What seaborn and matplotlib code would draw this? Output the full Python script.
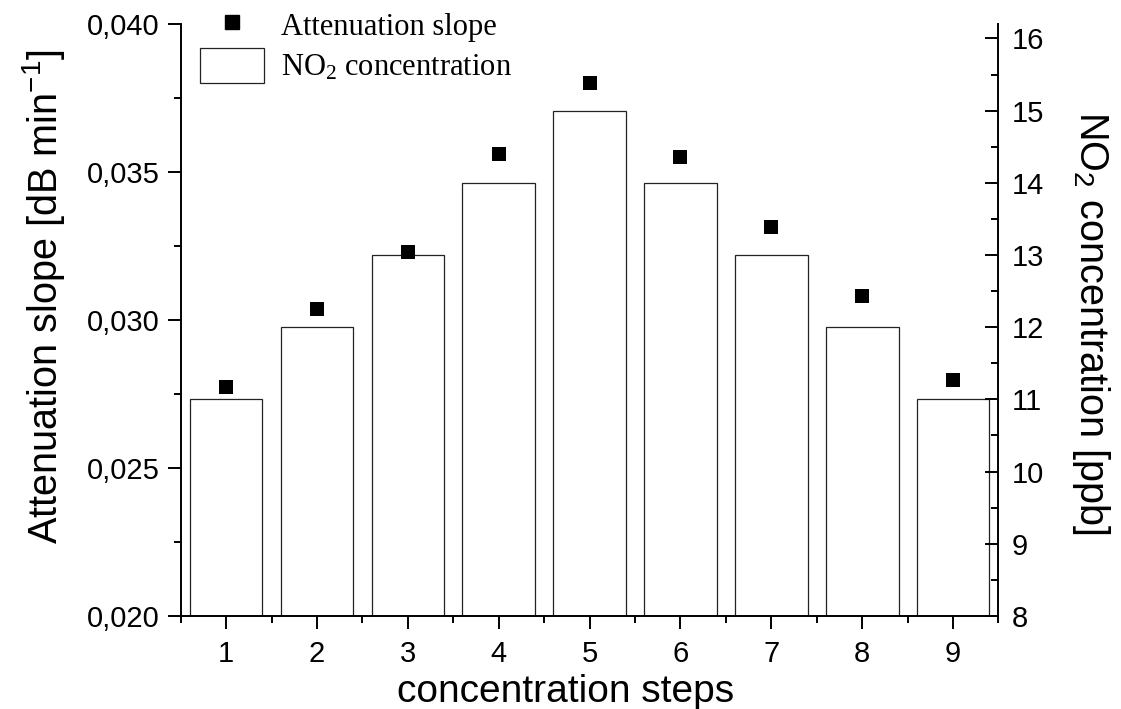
import matplotlib
matplotlib.use('Agg')
import pandas as pd
import seaborn as sns
from matplotlib import pyplot as plt
from matplotlib import ticker
from matplotlib.lines import Line2D
from matplotlib.patches import Patch

steps = [1, 2, 3, 4, 5, 6, 7, 8, 9]
slope = [0.02774, 0.03037, 0.03230, 0.03560, 0.03801, 0.03551, 0.03314, 0.03081, 0.02797]
no2_ppb = [11, 12, 13, 14, 15, 14, 13, 12, 11]

plt.rcParams['font.family'] = ['Liberation Sans', 'DejaVu Sans']
plt.rcParams['mathtext.default'] = 'regular'

df = pd.DataFrame({'step': steps, 'slope': slope, 'no2': no2_ppb})

fig = plt.figure(figsize=(11.21, 7.09), dpi=100)
ax = fig.add_axes([0.1612, 0.1312, 0.7295, 0.8350])
ax2 = ax.twinx()

# bars on the right axis, squares on the left axis (drawn on top)
sns.barplot(data=df, x='step', y='no2', native_scale=True, width=0.8, color='white',
            edgecolor='#222222', linewidth=0.9, errorbar=None, ax=ax2)
sns.scatterplot(data=df, x='step', y='slope', marker='s', s=92, color='black',
                linewidth=0, ax=ax)
ax.set_zorder(2)
ax2.set_zorder(1)
ax.patch.set_visible(False)

ax.set_xlim(0.5, 9.5)
ax.set_xticks(steps)
ax.xaxis.set_minor_locator(ticker.MultipleLocator(1.0, offset=0.5))
ax.set_ylim(0.020, 0.040)
ax.yaxis.set_major_locator(ticker.MultipleLocator(0.005))
ax.yaxis.set_minor_locator(ticker.MultipleLocator(0.0025))
ax.yaxis.set_major_formatter(ticker.FuncFormatter(lambda v, p: f'{v:.3f}'.replace('.', ',')))
ax2.set_ylim(8, 16.2)
ax2.yaxis.set_major_locator(ticker.MultipleLocator(1))
ax2.yaxis.set_minor_locator(ticker.MultipleLocator(0.5))

ax.tick_params(axis='both', which='major', direction='out', length=9.4, width=1.4, labelsize=21, color='black')
ax.tick_params(axis='both', which='minor', direction='out', length=4.8, width=1.4)
ax.tick_params(axis='y', which='major', pad=6)
ax.tick_params(axis='x', which='major', pad=8)
ax2.tick_params(axis='y', which='major', direction='in', length=9.1, width=1.4, labelsize=21, pad=9.4)
ax2.tick_params(axis='y', which='minor', direction='in', length=4.8, width=1.4)

for s in ['top', 'right']:
    ax.spines[s].set_visible(False)
for s in ['top', 'left', 'bottom']:
    ax2.spines[s].set_visible(False)
for s in ['left', 'bottom']:
    ax.spines[s].set_linewidth(1.4)
ax2.spines['right'].set_linewidth(1.4)

ax.set_xlabel('concentration steps', fontsize=28)
ax.xaxis.set_label_coords(0.4705, -0.098)
ax.set_ylabel('Attenuation slope [dB min$^{-1}$]', fontsize=28.5)
ax.yaxis.set_label_coords(-0.139, 0.54)
ax2.set_ylabel('NO$_2$ concentration [ppb]', fontsize=28.5, rotation=270, va='bottom')
ax2.yaxis.set_label_coords(1.088, 0.495)

handles = [Line2D([], [], marker='s', linestyle='none', color='black', markersize=9.6),
           Patch(facecolor='white', edgecolor='#222222', linewidth=0.9)]
ax.legend(handles, ['Attenuation slope', 'NO$_2$ concentration'], loc='upper left',
          bbox_to_anchor=(0.0236, 1.027), frameon=False,
          prop={'family': 'Liberation Serif', 'size': 22},
          handlelength=2.1, handleheight=1.35, handletextpad=0.55,
          labelspacing=0.2, borderpad=0, borderaxespad=0)

fig.savefig('out.png', dpi=100)
